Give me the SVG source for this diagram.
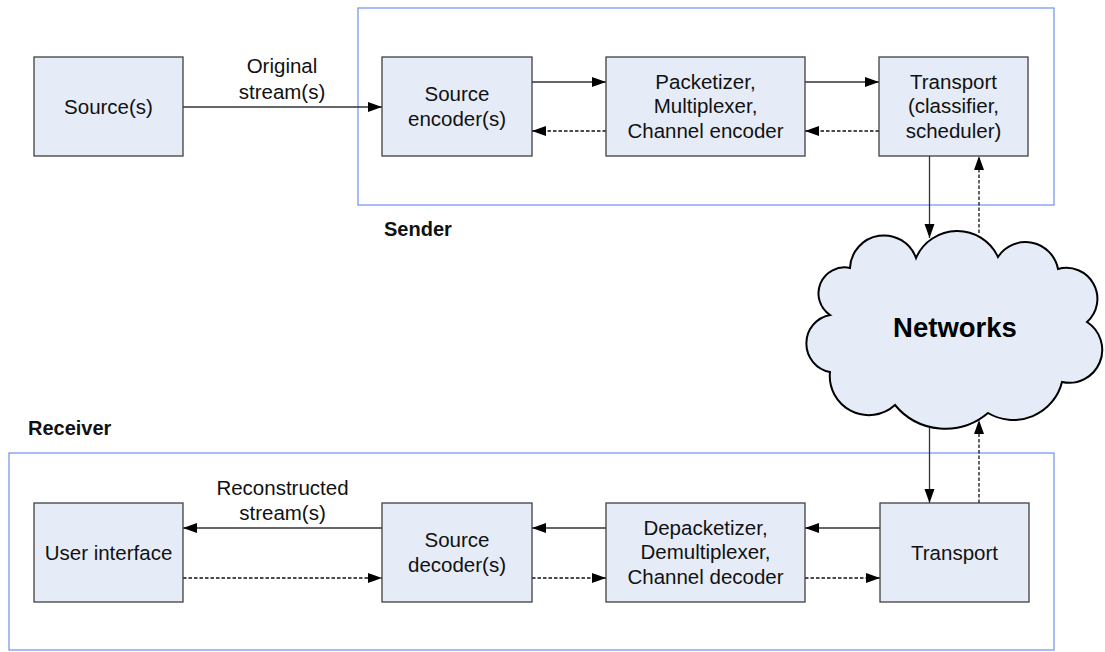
<svg xmlns="http://www.w3.org/2000/svg" width="1105" height="652" viewBox="0 0 1105 652">
<defs>
<style>
.box{fill:#e6ecf7;stroke:#404040;stroke-width:1.3}
.cont{fill:none;stroke:#6f8ff0;stroke-width:1.2}
.t{font-family:"Liberation Sans",Arial,sans-serif;font-size:20.5px;fill:#111;text-anchor:middle}
.lbl{font-family:"Liberation Sans",Arial,sans-serif;font-size:20px;font-weight:bold;fill:#111}
.solid{stroke:#333;stroke-width:1.3;fill:none;marker-end:url(#ah)}
.dash{stroke:#111;stroke-width:1.3;fill:none;stroke-dasharray:3.5 2;marker-end:url(#ah)}
</style>
<marker id="ah" markerUnits="userSpaceOnUse" markerWidth="15" markerHeight="11" refX="14" refY="5" orient="auto">
<path d="M0,0 L14,5 L0,10 Z" fill="#000"/>
</marker>
</defs>
<rect width="1105" height="652" fill="#fff"/>

<g id="sender">
<rect class="cont" x="358" y="8" width="696" height="197"/>
<text class="lbl" x="384" y="236">Sender</text>
</g>
<g id="receiver">
<rect class="cont" x="9" y="453" width="1045" height="197"/>
<text class="lbl" x="28" y="435">Receiver</text>
</g>

<g id="connectors">
<path class="solid" d="M183,107 H382"/>
<path class="solid" d="M532,82 H606"/>
<path class="solid" d="M805,82 H879"/>
<path class="dash" d="M606,131 H532"/>
<path class="dash" d="M879,131 H805"/>
<path class="solid" d="M929.5,156 V238"/>
<path class="dash" d="M979,233 V156"/>
<path class="solid" d="M929.5,428 V503"/>
<path class="dash" d="M979,503 V420"/>
<path class="solid" d="M880,528 H805"/>
<path class="solid" d="M606,528 H532"/>
<path class="solid" d="M382,528 H183"/>
<path class="dash" d="M183,578 H382"/>
<path class="dash" d="M532,578 H606"/>
<path class="dash" d="M805,578 H880"/>
<text class="t" x="282" y="73">Original</text>
<text class="t" x="282" y="99">stream(s)</text>
<text class="t" x="282.5" y="495">Reconstructed</text>
<text class="t" x="282.5" y="520">stream(s)</text>
</g>

<g id="sources">
<rect class="box" x="34" y="57" width="149" height="99"/>
<text class="t" x="108.5" y="113.5">Source(s)</text>
</g>
<g id="source-encoder">
<rect class="box" x="382" y="57" width="150" height="99"/>
<text class="t" x="457" y="100.5">Source</text>
<text class="t" x="457" y="125.5">encoder(s)</text>
</g>
<g id="packetizer">
<rect class="box" x="606" y="57" width="199" height="99"/>
<text class="t" x="705.5" y="88.5">Packetizer,</text>
<text class="t" x="705.5" y="113">Multiplexer,</text>
<text class="t" x="705.5" y="137.5">Channel encoder</text>
</g>
<g id="transport-sender">
<rect class="box" x="879" y="57" width="149" height="99"/>
<text class="t" x="953.5" y="88.5">Transport</text>
<text class="t" x="953.5" y="113">(classifier,</text>
<text class="t" x="953.5" y="137.5">scheduler)</text>
</g>

<g id="networks">
<path d="M850,268 A34,34 0 0 1 916,258 A45,45 0 0 1 998,257 A33,33 0 0 1 1058,269 A31,31 0 0 1 1087,322 A33,33 0 0 1 1062,382 A50,50 0 0 1 988,413 A66,66 0 0 1 895,405 A39,39 0 0 1 830,372 A29,29 0 0 1 830,315 A26,26 0 0 1 850,268 Z" fill="#e6ecf7" stroke="#000" stroke-width="2"/>
<text x="955" y="337" font-family="Liberation Sans,Arial,sans-serif" font-size="27.5" font-weight="bold" text-anchor="middle" fill="#000">Networks</text>
</g>

<g id="user-interface">
<rect class="box" x="34" y="503" width="149" height="99"/>
<text class="t" x="108.5" y="559.5">User interface</text>
</g>
<g id="source-decoder">
<rect class="box" x="382" y="503" width="150" height="99"/>
<text class="t" x="457" y="546.5">Source</text>
<text class="t" x="457" y="571.5">decoder(s)</text>
</g>
<g id="depacketizer">
<rect class="box" x="606" y="503" width="199" height="99"/>
<text class="t" x="705.5" y="534.5">Depacketizer,</text>
<text class="t" x="705.5" y="559">Demultiplexer,</text>
<text class="t" x="705.5" y="583.5">Channel decoder</text>
</g>
<g id="transport-receiver">
<rect class="box" x="880" y="503" width="149" height="99"/>
<text class="t" x="954.5" y="559.5">Transport</text>
</g>
</svg>
